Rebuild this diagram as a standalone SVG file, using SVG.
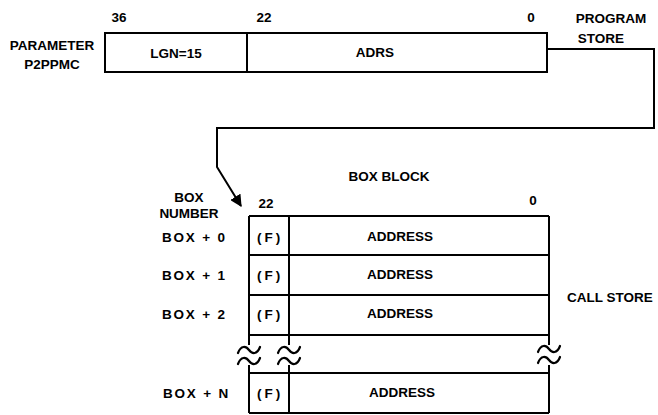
<svg xmlns="http://www.w3.org/2000/svg" width="658" height="415" viewBox="0 0 658 415">
<style>
text{font-family:"Liberation Sans",Arial,sans-serif;font-weight:bold;font-size:13.5px;fill:#000}
.m{text-anchor:middle}
.bx{letter-spacing:1.8px}
.f{letter-spacing:3px}
.box{fill:none;stroke:#000;stroke-width:2}
.ln{fill:none;stroke:#000;stroke-width:2}
.sq{fill:none;stroke:#000;stroke-width:2.2;stroke-linecap:round}
</style>
<defs>
<marker id="ah" viewBox="0 0 10 10" refX="9" refY="5" markerWidth="6" markerHeight="6" orient="auto" markerUnits="strokeWidth">
<path d="M0,0 L10,5 L0,10 Z" fill="#000"/>
</marker>
<path id="tilde" d="M-11,3 C-8,-5 -3,-4 0,0 C3,4 8,5 11,-3"/>
</defs>
<rect width="658" height="415" fill="#fff"/>

<g id="param">
<text x="52" y="50" class="m">PARAMETER</text>
<text x="52" y="69" class="m">P2PPMC</text>
<text x="119" y="22" class="m">36</text>
<text x="264" y="22" class="m">22</text>
<text x="531" y="22" class="m">0</text>
<rect x="105" y="33" width="442" height="39" class="box"/>
<line x1="247" y1="33" x2="247" y2="72" class="ln"/>
<text x="176" y="58" class="m">LGN=15</text>
<text x="375" y="57" class="m">ADRS</text>
<text x="611" y="23" class="m">PROGRAM</text>
<text x="601" y="43" class="m">STORE</text>
</g>

<g id="connectors">
<polyline points="547,49 654,49 654,128 217,128 217,167 241,206" class="ln" marker-end="url(#ah)"/>
</g>

<g id="boxblock">
<text x="389" y="181" class="m">BOX BLOCK</text>
<text x="189" y="202" class="m">BOX</text>
<text x="189" y="218" class="m">NUMBER</text>
<text x="266" y="208" class="m">22</text>
<text x="533" y="205" class="m">0</text>
<text x="567" y="302">CALL STORE</text>
<g class="ln">
<line x1="249" y1="216" x2="549" y2="216"/>
<line x1="249" y1="255" x2="549" y2="255"/>
<line x1="249" y1="295" x2="549" y2="295"/>
<line x1="249" y1="335" x2="549" y2="335"/>
<line x1="249" y1="373" x2="549" y2="373"/>
<line x1="249" y1="413" x2="549" y2="413"/>
<line x1="249" y1="216" x2="249" y2="345"/>
<line x1="249" y1="365" x2="249" y2="413"/>
<line x1="289" y1="216" x2="289" y2="345"/>
<line x1="289" y1="365" x2="289" y2="413"/>
<line x1="549" y1="216" x2="549" y2="345"/>
<line x1="549" y1="365" x2="549" y2="413"/>
</g>
<g class="sq">
<use href="#tilde" x="249" y="350"/>
<use href="#tilde" x="249" y="361"/>
<use href="#tilde" x="289" y="350"/>
<use href="#tilde" x="289" y="361"/>
<use href="#tilde" x="549" y="349"/>
<use href="#tilde" x="549" y="360"/>
</g>
<g id="row0"><text x="162" y="242" class="bx">BOX + 0</text><text x="257" y="242" class="f">(F)</text><text x="400" y="241" class="m">ADDRESS</text></g>
<g id="row1"><text x="162" y="280" class="bx">BOX + 1</text><text x="257" y="280" class="f">(F)</text><text x="400" y="279" class="m">ADDRESS</text></g>
<g id="row2"><text x="162" y="319" class="bx">BOX + 2</text><text x="257" y="319" class="f">(F)</text><text x="400" y="318" class="m">ADDRESS</text></g>
<g id="rowN"><text x="163" y="398" class="bx">BOX + N</text><text x="257" y="398" class="f">(F)</text><text x="402" y="397" class="m">ADDRESS</text></g>
</g>
</svg>
